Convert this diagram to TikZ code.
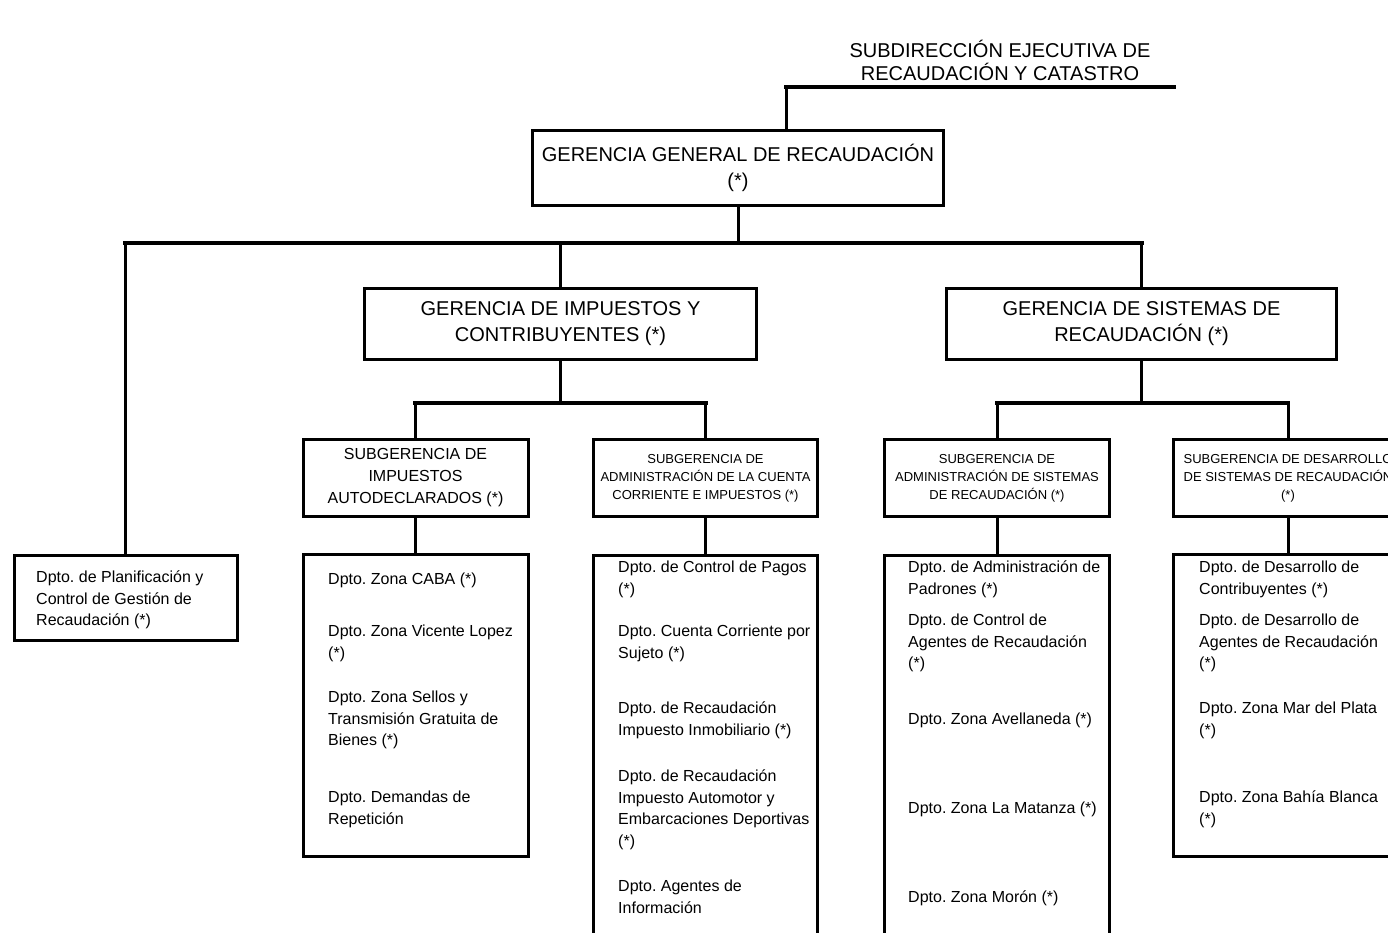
\documentclass[tikz,border=0pt]{standalone}
\usepackage{fontspec}
\setmainfont{Liberation Sans}
\frenchspacing
\begin{document}
\begin{tikzpicture}[x=1pt, y=-1pt,
    box/.style={draw, line width=3pt, inner sep=0pt, align=center},
    vline/.style={line width=3pt},
    hline/.style={line width=4.5pt, line cap=rect},
    big/.style={font=\fontsize{20}{26}\selectfont},
    mid/.style={font=\fontsize{16}{22}\selectfont},
    small/.style={font=\fontsize{13}{18}\selectfont},
    item/.style={anchor=north west, inner sep=0pt, align=left, font=\fontsize{16}{21.5}\selectfont}]
    \useasboundingbox (0,0) rectangle (1388,932);
    % title and line from above
    \node[align=center, font=\fontsize{20}{23}\selectfont] (subd) at (1000,60) {SUBDIRECCIÓN EJECUTIVA DE\\RECAUDACIÓN Y CATASTRO};
    \coordinate (sdl) at (786,87);
    \coordinate (sdr) at (1174,87);
    % gerencias
    \node[box, big, minimum width=411, minimum height=75] (gg) at (738,168) {GERENCIA GENERAL DE RECAUDACIÓN\\(*)};
    \node[box, big, minimum width=392, minimum height=71] (gic) at (560.5,324) {GERENCIA DE IMPUESTOS Y\\CONTRIBUYENTES (*)};
    \node[box, big, minimum width=390, minimum height=71] (gsr) at (1141.5,324) {GERENCIA DE SISTEMAS DE\\RECAUDACIÓN (*)};
    \node[box, minimum width=223, minimum height=85] (plan) at (125.5,598) {};
    % subgerencias
    \node[box, mid, minimum width=225, minimum height=77] (sg1) at (415.5,478) {SUBGERENCIA DE\\IMPUESTOS\\AUTODECLARADOS (*)};
    \node[box, small, minimum width=224, minimum height=77] (sg2) at (705.5,478) {SUBGERENCIA DE\\ADMINISTRACIÓN DE LA CUENTA\\CORRIENTE E IMPUESTOS (*)};
    \node[box, small, minimum width=225, minimum height=77] (sg3) at (997,478) {SUBGERENCIA DE\\ADMINISTRACIÓN DE SISTEMAS\\DE RECAUDACIÓN (*)};
    \node[box, small, minimum width=229, minimum height=77] (sg4) at (1288,478) {SUBGERENCIA DE DESARROLLO\\DE SISTEMAS DE RECAUDACIÓN\\(*)};
    % departamentos
    \node[box, minimum width=225, minimum height=302] (d1) at (415.5,705.5) {};
    \node[box, minimum width=224, minimum height=404] (d2) at (705.5,757) {};
    \node[box, minimum width=225, minimum height=404] (d3) at (997,757) {};
    \node[box, minimum width=229, minimum height=302] (d4) at (1288,705.5) {};
    % bars
    \coordinate (bar0) at (0,243);
    \coordinate (bar1) at (0,403);
    \draw[hline] (sdl) -- (sdr);
    \draw[vline] (sdl) -- (sdl |- gg.north);
    \draw[vline] (gg.south) -- (gg.south |- bar0);
    \draw[hline] (plan.north |- bar0) -- (gsr.north |- bar0);
    \foreach \n in {plan,gic,gsr}
        \draw[vline] (\n.north |- bar0) -- (\n.north);
    \draw[vline] (gic.south) -- (gic.south |- bar1);
    \draw[vline] (gsr.south) -- (gsr.south |- bar1);
    \draw[hline] (sg1.north |- bar1) -- (sg2.north |- bar1);
    \draw[hline] (sg3.north |- bar1) -- (sg4.north |- bar1);
    \foreach \s/\d in {sg1/d1,sg2/d2,sg3/d3,sg4/d4}{
        \draw[vline] (\s.north |- bar1) -- (\s.north);
        \draw[vline] (\s.south) -- (\d.north);
    }
    % texts of the boxes
    \node[item] (p1) at (36,571) {Dpto. de Planificación y\\Control de Gestión de\\Recaudación (*)};
    \node[item] (a1) at (328,573) {Dpto. Zona CABA (*)};
    \node[item] (a2) at (328,625) {Dpto. Zona Vicente Lopez\\(*)};
    \node[item] (a3) at (328,691) {Dpto. Zona Sellos y\\Transmisión Gratuita de\\Bienes (*)};
    \node[item] (a4) at (328,791) {Dpto. Demandas de\\Repetición};
    \node[item] (b1) at (618,561) {Dpto. de Control de Pagos\\(*)};
    \node[item] (b2) at (618,625) {Dpto. Cuenta Corriente por\\Sujeto (*)};
    \node[item] (b3) at (618,702) {Dpto. de Recaudación\\Impuesto Inmobiliario (*)};
    \node[item] (b4) at (618,770) {Dpto. de Recaudación\\Impuesto Automotor y\\Embarcaciones Deportivas\\(*)};
    \node[item] (b5) at (618,880) {Dpto. Agentes de\\Información};
    \node[item] (c1) at (908,561) {Dpto. de Administración de\\Padrones (*)};
    \node[item] (c2) at (908,614) {Dpto. de Control de\\Agentes de Recaudación\\(*)};
    \node[item] (c3) at (908,713) {Dpto. Zona Avellaneda (*)};
    \node[item] (c4) at (908,802) {Dpto. Zona La Matanza (*)};
    \node[item] (c5) at (908,891) {Dpto. Zona Morón (*)};
    \node[item] (e1) at (1199,561) {Dpto. de Desarrollo de\\Contribuyentes (*)};
    \node[item] (e2) at (1199,614) {Dpto. de Desarrollo de\\Agentes de Recaudación\\(*)};
    \node[item] (e3) at (1199,702) {Dpto. Zona Mar del Plata\\(*)};
    \node[item] (e4) at (1199,791) {Dpto. Zona Bahía Blanca\\(*)};
\end{tikzpicture}
\end{document}
